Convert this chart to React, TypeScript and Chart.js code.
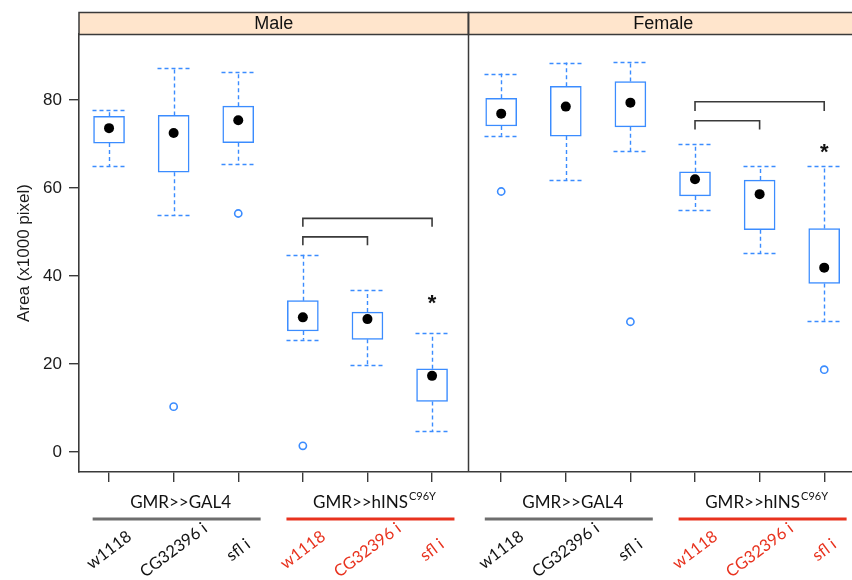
import React, { useEffect, useRef } from 'react';
import { Chart, registerables } from 'chart.js';

Chart.register(...registerables);

// ---------- data ----------
const PANELS = ['Male', 'Female'];
const GENOTYPES = ['w1118', 'CG32396 i', 'sfl i', 'w1118', 'CG32396 i', 'sfl i'];
const DRIVERS = ['GMR>>GAL4', 'GMR>>hINS'];
const DRIVER_SUP = ['', 'C96Y'];
const Y_TICKS = [0, 20, 40, 60, 80];
const Y_TITLE = 'Area (x1000 pixel)';

const maleLow = [65.0, 53.9, 65.4, 25.5, 19.8, 4.7];
const maleQ1 = [70.2, 63.6, 70.3, 27.5, 25.6, 11.5];
const maleMedian = [73.6, 72.5, 75.4, 30.6, 30.2, 17.3];
const maleQ3 = [76.3, 76.5, 78.6, 34.4, 31.8, 18.9];
const maleHigh = [77.7, 87.3, 86.4, 44.8, 36.8, 27.0];
const maleOutliers = [[], [10.3], [54.2], [1.4], [], []];

const femaleLow = [71.9, 61.8, 68.4, 54.9, 45.2, 29.8];
const femaleQ1 = [74.1, 71.8, 73.9, 58.2, 50.5, 38.3];
const femaleMedian = [76.9, 78.5, 79.4, 62.0, 58.6, 41.9];
const femaleQ3 = [80.4, 83.1, 84.2, 63.7, 61.8, 50.8];
const femaleHigh = [86.0, 88.5, 88.7, 69.9, 64.9, 64.9];
const femaleOutliers = [[59.2], [], [29.6], [], [], [18.7]];

// significance brackets: [fromIndex, toIndex, barValue, endValue]
const maleBrackets = [[4, 6, 53.1, 51.2], [4, 5, 48.9, 47.0]];
const femaleBrackets = [[4, 6, 79.6, 77.5], [4, 5, 75.3, 73.3]];
// asterisks: [index, value]
const maleStars = [[6, 35.0]];
const femaleStars = [[6, 69.4]];

// ---------- layout constants ----------
const W = 852;
const H = 580;
const PANEL_OFFSET = [0, 6.07];
const X_MIN = 0.535;
const X_MAX = 12.5;
const DIVIDER = 6.557;
const Y_MIN = -4.55;
const Y_MAX = 95;
const BLUE = '#3b8cff';
const RED = '#e8321e';
const FRAME = '#3a3a3a';
const STRIP_BG = '#ffe5cc';

const panelData = [
  { low: maleLow, q1: maleQ1, med: maleMedian, q3: maleQ3, high: maleHigh, out: maleOutliers, brackets: maleBrackets, stars: maleStars },
  { low: femaleLow, q1: femaleQ1, med: femaleMedian, q3: femaleQ3, high: femaleHigh, out: femaleOutliers, brackets: femaleBrackets, stars: femaleStars },
];

const posOf = (p: number, i: number) => PANEL_OFFSET[p] + i;

type Box = { x: number; low: number; q1: number; med: number; q3: number; high: number };
const boxes: Box[] = [];
panelData.forEach((pd, p) => {
  GENOTYPES.forEach((_, i) => {
    boxes.push({ x: posOf(p, i + 1), low: pd.low[i], q1: pd.q1[i], med: pd.med[i], q3: pd.q3[i], high: pd.high[i] });
  });
});

const outlierPoints: { x: number; y: number }[] = [];
panelData.forEach((pd, p) => {
  pd.out.forEach((vals, i) => vals.forEach((v) => outlierPoints.push({ x: posOf(p, i + 1), y: v })));
});

const bracketDatasets: any[] = [];
panelData.forEach((pd, p) => {
  pd.brackets.forEach(([a, b, top, end]) => {
    bracketDatasets.push({
      type: 'line',
      data: [
        { x: posOf(p, a), y: end },
        { x: posOf(p, a), y: top },
        { x: posOf(p, b), y: top },
        { x: posOf(p, b), y: end },
      ],
      borderColor: FRAME,
      borderWidth: 1.6,
      pointRadius: 0,
      tension: 0,
      fill: false,
      order: 2,
    });
  });
});

const tickPositions: number[] = [];
PANELS.forEach((_, p) => GENOTYPES.forEach((_, i) => tickPositions.push(posOf(p, i + 1))));

const decorPlugin = {
  id: 'decor',
  beforeDatasetsDraw(chart: any) {
    const { ctx, scales } = chart;
    const x = scales.x;
    const y = scales.y;
    ctx.save();
    ctx.strokeStyle = BLUE;
    ctx.lineWidth = 1.4;
    ctx.setLineDash([4, 3]);
    boxes.forEach((b) => {
      const px = Math.round(x.getPixelForValue(b.x)) + 0.5;
      ctx.beginPath();
      ctx.moveTo(px, y.getPixelForValue(b.q3));
      ctx.lineTo(px, y.getPixelForValue(b.high));
      ctx.moveTo(px, y.getPixelForValue(b.q1));
      ctx.lineTo(px, y.getPixelForValue(b.low));
      ctx.stroke();
      [b.high, b.low].forEach((v) => {
        const py = Math.round(y.getPixelForValue(v)) + 0.5;
        ctx.beginPath();
        ctx.moveTo(px - 17, py);
        ctx.lineTo(px + 17, py);
        ctx.stroke();
      });
    });
    ctx.restore();
  },
  afterDraw(chart: any) {
    const { ctx, scales, chartArea } = chart;
    const x = scales.x;
    const y = scales.y;
    const left = chartArea.left;
    const divX = Math.round(x.getPixelForValue(DIVIDER)) + 0.5;
    const panelW = divX - left;
    const stripTop = 12.5;
    const stripBottom = chartArea.top + 0.5;

    ctx.save();
    // strips
    [[left, divX], [divX, divX + panelW]].forEach(([l, r], p) => {
      ctx.fillStyle = STRIP_BG;
      ctx.fillRect(l, stripTop, r - l, stripBottom - stripTop);
      ctx.strokeStyle = FRAME;
      ctx.lineWidth = 1.5;
      ctx.strokeRect(l, stripTop, r - l, stripBottom - stripTop);
      ctx.fillStyle = '#111';
      ctx.font = '18px "Liberation Sans", Arial, sans-serif';
      ctx.textAlign = 'center';
      ctx.textBaseline = 'middle';
      ctx.fillText(PANELS[p], (l + r) / 2, (stripTop + stripBottom) / 2 + 1);
    });
    // divider
    ctx.beginPath();
    ctx.moveTo(divX, stripTop);
    ctx.lineTo(divX, chartArea.bottom);
    ctx.strokeStyle = FRAME;
    ctx.lineWidth = 1.5;
    ctx.stroke();

    // asterisks
    ctx.fillStyle = '#111';
    ctx.font = 'bold 22px "Liberation Sans", Arial, sans-serif';
    ctx.textAlign = 'center';
    ctx.textBaseline = 'alphabetic';
    panelData.forEach((pd, p) => {
      pd.stars.forEach(([i, v]) => {
        ctx.fillText('*', x.getPixelForValue(posOf(p, i)), y.getPixelForValue(v) + 12);
      });
    });

    // group labels + lines
    const labelFont = 'Lato, "Open Sans", sans-serif';
    PANELS.forEach((_, p) => {
      DRIVERS.forEach((drv, g) => {
        const x1 = x.getPixelForValue(posOf(p, g * 3 + 1));
        const x3 = x.getPixelForValue(posOf(p, g * 3 + 3));
        const c = (x1 + x3) / 2;
        // line
        ctx.beginPath();
        ctx.moveTo(c + 3 - 84, 519);
        ctx.lineTo(c + 3 + 84, 519);
        ctx.strokeStyle = g === 0 ? '#6e6e6e' : RED;
        ctx.lineWidth = 3;
        ctx.stroke();
        // text
        ctx.font = `17px ${labelFont}`;
        const mainW = ctx.measureText(drv).width;
        ctx.font = `11px ${labelFont}`;
        const supW = DRIVER_SUP[g] ? ctx.measureText(DRIVER_SUP[g]).width + 1 : 0;
        const total = mainW + supW;
        const tx = c + 7 - total / 2;
        ctx.fillStyle = '#111';
        ctx.textAlign = 'left';
        ctx.textBaseline = 'alphabetic';
        ctx.font = `17px ${labelFont}`;
        ctx.fillText(drv, tx, 508);
        if (DRIVER_SUP[g]) {
          ctx.font = `11px ${labelFont}`;
          ctx.fillText(DRIVER_SUP[g], tx + mainW + 1, 500);
        }
      });
      // genotype labels
      GENOTYPES.forEach((lab, i) => {
        const px = x.getPixelForValue(posOf(p, i + 1));
        ctx.save();
        ctx.translate(px, 550);
        ctx.rotate((-37 * Math.PI) / 180);
        ctx.font = `16.5px ${labelFont}`;
        ctx.fillStyle = i < 3 ? '#111' : RED;
        ctx.textAlign = 'center';
        ctx.textBaseline = 'middle';
        ctx.fillText(lab, 0, 0);
        ctx.restore();
      });
    });
    ctx.restore();
  },
};

export default function App() {
  const ref = useRef<HTMLCanvasElement | null>(null);

  useEffect(() => {
    const canvas = ref.current;
    if (!canvas) return;
    const chart = new Chart(canvas, {
      type: 'bar',
      data: {
        datasets: [
          {
            type: 'bar',
            data: boxes.map((b) => ({ x: b.x, y: [b.q1, b.q3] })) as any,
            backgroundColor: '#ffffff',
            borderColor: BLUE,
            borderWidth: 1.5,
            borderSkipped: false,
            barThickness: 31,
            order: 3,
          } as any,
          ...bracketDatasets,
          {
            type: 'scatter',
            data: boxes.map((b) => ({ x: b.x, y: b.med })),
            pointRadius: 5,
            pointBackgroundColor: '#000',
            pointBorderColor: '#000',
            pointBorderWidth: 0,
            order: 1,
          } as any,
          {
            type: 'scatter',
            data: outlierPoints,
            pointRadius: 3.6,
            pointBackgroundColor: 'rgba(0,0,0,0)',
            pointBorderColor: BLUE,
            pointBorderWidth: 1.6,
            order: 1,
          } as any,
        ],
      },
      options: {
        responsive: false,
        animation: false,
        devicePixelRatio: 1,
        layout: { autoPadding: false, padding: { top: 34, left: 0, right: 0, bottom: 0 } },
        plugins: { legend: { display: false }, tooltip: { enabled: false } },
        scales: {
          x: {
            type: 'linear',
            position: 'bottom',
            min: X_MIN,
            max: X_MAX,
            offset: false,
            afterBuildTicks: (s: any) => {
              s.ticks = tickPositions.map((v) => ({ value: v }));
            },
            afterFit: (s: any) => {
              s.height = H - 472;
              s.paddingLeft = 0;
              s.paddingRight = 0;
            },
            ticks: { display: false },
            grid: { offset: false, drawOnChartArea: false, drawTicks: true, tickLength: 10, color: FRAME, lineWidth: 1.4 },
            border: { display: true, color: FRAME, width: 1.6 },
          },
          y: {
            type: 'linear',
            position: 'left',
            min: Y_MIN,
            max: Y_MAX,
            afterBuildTicks: (s: any) => {
              s.ticks = Y_TICKS.map((v) => ({ value: v }));
            },
            afterFit: (s: any) => {
              s.width = 79;
              s.paddingTop = 0;
              s.paddingBottom = 0;
            },
            ticks: {
              padding: 7,
              color: '#1a1a1a',
              font: { family: '"Liberation Sans", Arial, sans-serif', size: 17 },
            },
            grid: { drawOnChartArea: false, drawTicks: true, tickLength: 10, color: FRAME, lineWidth: 1.4 },
            border: { display: true, color: FRAME, width: 1.6 },
            title: {
              display: true,
              text: Y_TITLE,
              color: '#1a1a1a',
              padding: { top: 14, bottom: 0 },
              font: { family: '"Liberation Sans", Arial, sans-serif', size: 17 },
            },
          },
        },
      } as any,
      plugins: [decorPlugin],
    });
    return () => chart.destroy();
  }, []);

  return (
    <div style={{ position: 'fixed', left: 0, top: 0, width: W, height: H, background: '#fff' }}>
      <canvas ref={ref} width={W} height={H} style={{ width: W, height: H, display: 'block' }} />
    </div>
  );
}
